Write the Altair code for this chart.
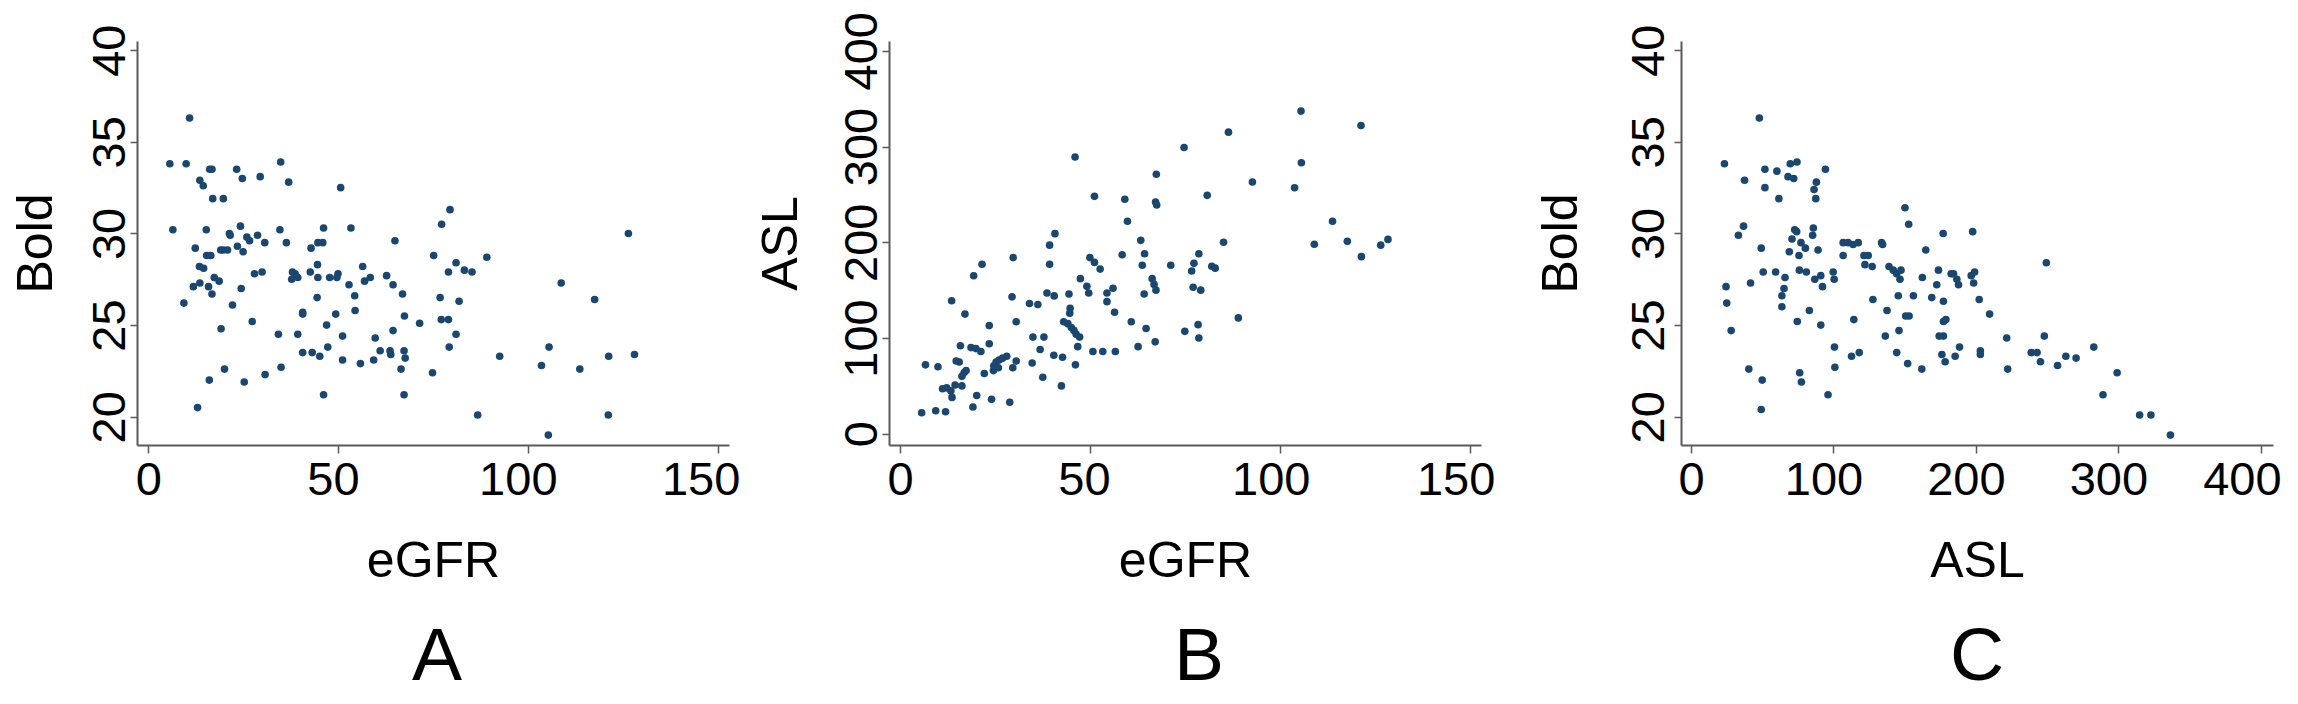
import altair as alt
import pandas as pd

FONT = "Liberation Sans"
DOT = "#1a476f"
AXC = "#5a5a5a"

# ---------------- Panel A: eGFR vs Bold ----------------
a_egfr = [5.7, 10.0, 13.6, 14.5, 16.2, 16.8, 17.0, 19.8, 23.3, 24.8,
          29.5, 34.9, 37.0, 50.7, 6.5, 15.3, 12.4, 21.4, 21.6, 24.3,
          23.5, 25.0, 26.0, 26.7, 28.8, 30.7, 34.7, 36.4, 15.4, 16.5,
          19.1, 19.8, 20.9, 13.5, 14.6, 17.4, 18.7, 13.6, 11.9, 15.9,
          16.8, 9.4, 24.5, 22.2, 28.0, 30.0, 27.4, 19.2, 20.1, 16.1,
          13.0, 25.3, 30.8, 35.0, 34.3, 39.4, 38.0, 38.7, 37.8, 39.4,
          40.7, 43.2, 45.2, 42.9, 44.7, 46.0, 46.2, 44.6, 42.7, 44.7,
          47.8, 50.0, 49.7, 44.5, 40.7, 40.7, 49.4, 47.0, 47.3, 46.2,
          51.2, 51.2, 52.9, 54.4, 53.4, 54.5, 55.9, 56.5, 57.0, 58.5,
          59.4, 59.8, 61.1, 62.8, 63.7, 63.9, 64.5, 65.0, 64.5, 66.6,
          67.0, 67.5, 67.4, 67.7, 67.4, 71.5, 74.9, 75.2, 76.9, 77.3,
          79.5, 77.2, 79.1, 79.1, 81.1, 81.9, 81.1, 79.3, 83.3, 85.3,
          86.8, 89.2, 92.6, 103.6, 105.6, 105.4, 108.8, 113.7, 117.6, 121.3,
          121.2, 126.5, 128.1, 10.9]
a_bold = [33.8, 33.8, 32.9, 32.6, 33.5, 33.5, 31.9, 31.9, 33.5, 33.0,
          33.1, 33.9, 32.8, 32.5, 30.2, 30.2, 29.2, 30.0, 29.9, 30.4,
          29.3, 29.0, 29.8, 29.6, 29.9, 29.5, 30.2, 29.5, 28.8, 28.8,
          29.1, 29.1, 29.1, 28.2, 28.1, 27.6, 27.4, 27.3, 27.1, 27.1,
          26.7, 26.2, 27.0, 26.1, 27.8, 27.9, 25.2, 24.8, 22.6, 22.0,
          20.5, 21.9, 22.3, 22.7, 24.5, 24.5, 27.9, 27.8, 27.5, 27.6,
          23.5, 23.5, 23.3, 29.2, 29.5, 29.5, 30.3, 28.3, 27.9, 27.6,
          27.6, 27.8, 27.6, 26.5, 25.7, 25.6, 25.6, 25.0, 23.8, 21.2,
          24.4, 23.1, 27.2, 26.6, 30.3, 25.8, 22.9, 28.2, 27.4, 27.6,
          23.1, 24.3, 23.6, 27.7, 23.6, 23.4, 27.2, 29.6, 24.7, 22.6,
          26.7, 25.5, 23.6, 23.2, 21.2, 25.1, 22.4, 28.8, 26.5, 30.5,
          31.3, 25.3, 25.3, 27.9, 28.4, 26.3, 24.5, 23.8, 28.0, 27.9,
          20.1, 28.7, 23.3, 22.8, 23.8, 19.0, 27.3, 22.6, 26.4, 23.3,
          20.1, 30.0, 23.4, 36.3]

# ---------------- Panel B: eGFR vs ASL ----------------
b_egfr = [5.7, 9.4, 12.0, 19.2, 24.1, 28.9, 20.2, 6.7, 10.0, 11.2,
          12.3, 13.4, 13.7, 14.5, 16.3, 14.8, 15.6, 16.3, 16.9, 17.4,
          15.9, 13.6, 17.1, 19.4, 21.6, 18.7, 20.0, 21.3, 23.5, 23.5,
          22.2, 24.7, 25.3, 26.1, 27.0, 28.1, 24.6, 25.9, 29.7, 30.6,
          29.5, 29.8, 30.6, 34.8, 35.0, 36.9, 37.6, 34.1, 36.3, 37.9,
          39.4, 39.4, 40.8, 38.7, 40.6, 40.5, 42.8, 42.5, 44.5, 44.8,
          44.7, 43.1, 44.2, 45.1, 45.8, 46.4, 47.3, 46.8, 46.2, 47.5,
          49.2, 49.7, 50.0, 51.2, 52.7, 50.8, 53.4, 56.7, 54.5, 56.1,
          54.5, 56.5, 58.5, 60.9, 62.7, 63.4, 64.4, 63.8, 66.4, 66.9,
          67.4, 64.3, 64.8, 67.2, 71.3, 75.0, 76.8, 77.4, 77.2, 78.7,
          78.5, 78.7, 79.2,
          46.1, 51.2, 59.2, 59.9, 67.5, 67.3, 67.6, 74.8, 86.5, 92.8,
          80.9, 105.6, 105.7, 103.9, 121.4, 113.9, 109.1, 117.8, 121.5, 126.6,
          128.5, 85.2, 89.1, 82.1, 83.0]
b_asl = [22, 24, 23, 28, 36, 33, 40, 72, 70, 47,
         48, 45, 38, 51, 50, 76, 75, 60, 64, 66,
         92, 139, 125, 165, 177, 90, 89, 86, 113, 94,
         63, 71, 75, 77, 79, 81, 66, 69, 69, 76,
         143, 184, 117, 74, 101, 88, 59, 136, 135, 101,
         177, 197, 209, 147, 144, 82, 80, 50, 146, 131,
         126, 117, 115, 111, 108, 104, 101, 91, 72, 162,
         154, 147, 184, 179, 172, 86, 86, 86, 147, 152,
         138, 127, 187, 117, 91, 202, 188, 176, 162, 156,
         150, 146, 110, 96, 176, 107, 170, 178, 153, 188,
         114, 100, 150,
         289, 248, 245, 222, 271, 242, 239, 299, 315, 263,
         249, 337, 283, 257, 322, 222, 198, 201, 185, 197,
         203, 200, 121, 175, 173]

# ---------------- Panel C: ASL vs Bold ----------------
c_asl = [23.5, 37.6, 51.9, 51.9, 60.3, 61.7, 69.7, 74.4, 68.1, 72.1,
         88.0, 86.4, 87.6, 94.4, 36.9, 33.3, 49.3, 50.7, 41.8, 24.6,
         25.1, 28.2, 59.4, 66.0, 63.8, 65.3, 63.8, 72.8, 74.2, 70.9,
         77.2, 80.3, 69.0, 75.8, 85.9, 85.4, 89.2, 76.1, 81.0, 86.9,
         91.1, 92.3, 99.8, 100.5, 74.6, 83.1, 91.1, 40.6, 50.0, 76.3,
         77.5, 49.3, 96.2, 100.7, 101.0, 106.8, 110.3, 113.8, 117.4, 106.8,
         114.3, 112.7, 118.1, 121.4, 124.4, 122.1, 127.2, 127.7, 133.8, 134.5,
         137.6, 136.4, 139.0, 142.0, 144.4, 146.7, 147.4, 145.5, 146.0, 144.4,
         150.7, 153.1, 152.1, 150.2, 152.8, 156.1, 162.4, 162.0, 164.8, 169.0,
         172.5, 173.7, 177.0, 177.2, 177.2, 178.9, 174.2, 177.2, 176.1, 178.4,
         182.6, 184.3, 186.6, 187.8, 185.4, 188.5, 197.7, 196.7, 199.1, 198.4,
         202.3, 203.1, 203.1, 209.6,
         48.0, 221.6, 222.3, 249.4, 248.0, 245.3, 238.8, 242.9, 257.3, 263.1,
         270.3, 282.7, 289.2, 299.1, 314.9, 322.8, 336.5]
c_bold = [33.8, 32.9, 33.5, 32.5, 33.4, 31.9, 33.8, 33.9, 33.1, 33.0,
          32.8, 32.4, 31.9, 33.5, 30.4, 29.9, 29.2, 27.9, 27.3, 27.1,
          26.2, 24.7, 27.9, 27.6, 26.6, 27.0, 26.0, 30.2, 30.1, 29.7,
          29.5, 29.2, 29.0, 28.8, 30.3, 29.9, 29.1, 28.0, 27.9, 27.5,
          27.7, 27.1, 27.9, 27.5, 25.2, 25.8, 25.0, 22.6, 22.0, 22.4,
          21.9, 20.4, 21.2, 23.8, 22.7, 29.5, 29.5, 29.4, 29.5, 28.8,
          25.3, 23.3, 23.5, 28.8, 28.8, 28.3, 28.2, 26.4, 29.5, 29.4,
          25.8, 24.4, 28.2, 28.0, 27.8, 27.5, 28.0, 26.6, 24.7, 23.5,
          25.5, 25.5, 22.9, 31.4, 30.5, 26.6, 27.6, 22.6, 29.1, 26.5,
          27.2, 28.0, 30.0, 26.3, 25.2, 25.3, 24.4, 24.4, 23.4, 23.0,
          27.8, 27.8, 27.5, 27.2, 23.3, 23.8, 30.1, 27.7, 27.9, 27.3,
          26.4, 23.6, 23.4, 25.6,
          36.3, 24.3, 22.6, 28.4, 24.4, 23.0, 23.5, 23.5, 22.8, 23.3,
          23.2, 23.8, 21.2, 22.4, 20.1, 20.1, 19.0]

egfr_ticks = [0, 50, 100, 150]
asl_ticks_x = [0, 100, 200, 300, 400]
asl_ticks_y = [0, 100, 200, 300, 400]
bold_ticks = [20, 25, 30, 35, 40]

W, H = 592, 404


def label_shift(shifts):
    return {"condition": [{"test": f"datum.value === {k}", "value": v}
                          for k, v in shifts.items()],
            "value": 0}


def panel(xs, ys, xname, yname, xdom, ydom, xticks, yticks, xshift,
          ylabpad, ytitlepad, letter, letter_dx):
    df = pd.DataFrame({xname: xs, yname: ys})
    common = dict(grid=False, domainColor=AXC, domainWidth=2, tickColor=AXC,
                  tickWidth=1.5, labelFont=FONT, labelFontSize=47,
                  labelColor="black", labelFlush=False, labelOverlap=False,
                  titleFont=FONT, titleFontSize=50, titleFontWeight="normal",
                  titleColor="black")
    xaxis = alt.Axis(values=xticks, title=xname, tickSize=8, labelPadding=4.5,
                     titlePadding=33, labelOffset=label_shift(xshift), **common)
    yaxis = alt.Axis(values=yticks, title=yname, tickSize=7,
                     labelAngle=270, labelAlign="center",
                     labelBaseline="alphabetic", labelPadding=ylabpad,
                     titlePadding=ytitlepad, **common)
    return alt.Chart(df).mark_circle(size=58, color=DOT, opacity=1).encode(
        x=alt.X(f"{xname}:Q", scale=alt.Scale(domain=xdom, nice=False, zero=False), axis=xaxis),
        y=alt.Y(f"{yname}:Q", scale=alt.Scale(domain=ydom, nice=False, zero=False), axis=yaxis),
    ).properties(
        width=W, height=H,
        title=alt.TitleParams(text=letter, orient="bottom", anchor="middle",
                              frame="group", fontSize=75, font=FONT,
                              fontWeight="normal", color="black", offset=34,
                              dx=letter_dx),
    )


def spacer(w):
    return alt.Chart(pd.DataFrame({"s": [0]})).mark_point(opacity=0).encode(
        x=alt.X("s:Q", axis=None), y=alt.Y("s:Q", axis=None)
    ).properties(width=w, height=H)


pa = panel(a_egfr, a_bold, "eGFR", "Bold", [-2.95, 153.0], [18.46, 40.5],
           egfr_ticks, bold_ticks, {50: -5, 100: -10, 150: -17}, 6, 25, "A", 4)
pb = panel(b_egfr, b_asl, "eGFR", "ASL", [-2.9, 153.0], [-11.7, 410.2],
           egfr_ticks, asl_ticks_y, {50: -6, 100: -9, 150: -14}, 5.5, 32, "B", 14)
pc = panel(c_asl, c_bold, "ASL", "Bold", [-7.0, 408.5], [18.46, 40.5],
           asl_ticks_x, bold_ticks, {100: -10, 200: -10, 300: -10, 400: -19}, 11, 39, "C", 0)

chart = alt.hconcat(pa, spacer(160), pb, spacer(200), pc, spacing=0, bounds="flush").properties(
    padding={"left": 3, "top": 3, "right": 0, "bottom": 0},
    background="white",
).configure(font=FONT, view=alt.ViewConfig(stroke=None))

chart.save("out.html", embed_options={"renderer": "svg", "actions": False})
